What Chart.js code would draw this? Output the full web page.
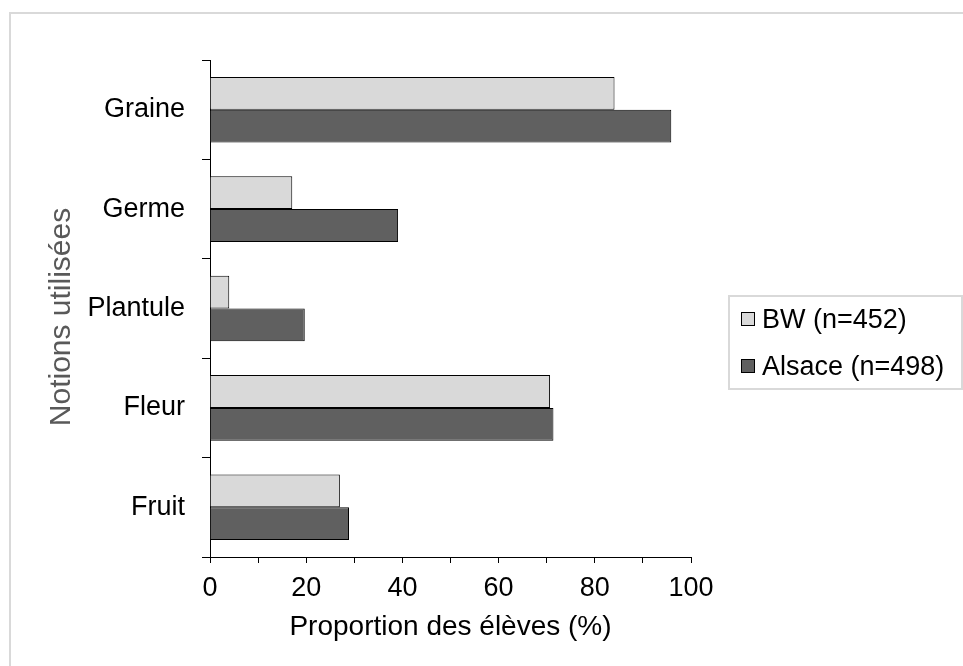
<!DOCTYPE html>
<html>
<head>
<meta charset="utf-8">
<script src="https://cdn.jsdelivr.net/npm/chart.js@4"></script>
<style>
  body { margin: 0; background: #fff; overflow: hidden; font-family: "Liberation Sans", Arial, sans-serif; }
  #frame { position: absolute; left: 9px; top: 12px; width: 2000px; height: 2000px;
           border-left: 2px solid #d9d9d9; border-top: 2px solid #d9d9d9; }
  #chart { position: absolute; left: 0; top: 0; }
  #legend { position: absolute; left: 728px; top: 295px; width: 235px; height: 95px;
            border: 2px solid #d9d9d9; box-sizing: border-box; }
  #legend ul { list-style: none; margin: 0; padding: 0; }
  #legend li { position: absolute; left: 11px; height: 30px; display: flex; align-items: center;
               font-size: 27px; color: #000; white-space: nowrap; }
  #legend li span { display: inline-block; width: 12px; height: 12px; border: 1px solid #000; margin-right: 7px; }
</style>
</head>
<body>
<div id="frame"></div>
<canvas id="chart" width="963" height="666"></canvas>
<div id="legend"></div>
<script>
const categories = ["Graine", "Germe", "Plantule", "Fleur", "Fruit"];
const seriesNames = ["BW (n=452)", "Alsace (n=498)"];
const bwValues = [84.1, 17.1, 4, 70.7, 27];
const alsaceValues = [95.9, 39.1, 19.7, 71.4, 28.9];
const xTicks = [0, 20, 40, 60, 80, 100];
const yTitle = "Notions utilisées";

const fontFamily = '"Liberation Sans", Arial, sans-serif';

// html legend, same idea as the chart.js sample
const htmlLegend = {
  id: "htmlLegend",
  afterUpdate(chart) {
    const box = document.getElementById("legend");
    box.innerHTML = "";
    const ul = document.createElement("ul");
    chart.data.datasets.forEach((ds, i) => {
      const li = document.createElement("li");
      li.style.top = (7 + i * 47) + "px";
      const sw = document.createElement("span");
      sw.style.background = ds.backgroundColor;
      li.appendChild(sw);
      li.appendChild(document.createTextNode(ds.label));
      ul.appendChild(li);
    });
    box.appendChild(ul);
  },
};

// y title sits a bit below the axis middle in the original
const sideTitle = {
  id: "sideTitle",
  afterDraw(chart) {
    const ctx = chart.ctx;
    ctx.save();
    ctx.translate(62, 317);
    ctx.rotate(-Math.PI / 2);
    ctx.font = "30px " + fontFamily;
    ctx.fillStyle = "#595959";
    ctx.textAlign = "center";
    ctx.textBaseline = "middle";
    ctx.fillText(yTitle, 0, 0);
    ctx.restore();
  },
};

new Chart(document.getElementById("chart").getContext("2d"), {
  type: "bar",
  data: {
    labels: categories,
    datasets: [
      {
        label: seriesNames[0],
        data: bwValues,
        backgroundColor: "#d9d9d9",
        borderColor: "#000",
        borderWidth: 1,
      },
      {
        label: seriesNames[1],
        data: alsaceValues,
        backgroundColor: "#606060",
        borderColor: "#000",
        borderWidth: 1,
      },
    ],
  },
  options: {
    indexAxis: "y",
    responsive: false,
    animation: false,
    devicePixelRatio: 1,
    categoryPercentage: 0.66,
    barPercentage: 1.0,
    layout: { padding: { left: 10, top: 60, right: 272, bottom: 0 } },
    plugins: {
      legend: { display: false },
      tooltip: { enabled: false },
    },
    scales: {
      x: {
        min: 0,
        max: 100,
        afterFit: (scale) => { scale.height = 109; },
        afterBuildTicks: (scale) => {
          scale.ticks = [];
          for (let v = 0; v <= 100; v += 10) scale.ticks.push({ value: v });
        },
        ticks: {
          autoSkip: false,
          maxRotation: 0,
          padding: 9,
          color: "#000",
          font: { family: fontFamily, size: 27 },
          callback: (v) => (xTicks.includes(v) ? String(v) : ""),
        },
        grid: { drawOnChartArea: false, tickLength: 6, color: "#000" },
        border: { color: "#000" },
        title: {
          display: true,
          text: "Proportion des élèves (%)",
          color: "#000",
          font: { family: fontFamily, size: 28 },
          padding: { top: 0, bottom: 22 },
        },
      },
      y: {
        afterFit: (scale) => { scale.width = 200; },
        ticks: {
          padding: 17,
          color: "#000",
          font: { family: fontFamily, size: 27 },
        },
        grid: { drawOnChartArea: false, offset: true, tickLength: 8, color: "#000" },
        border: { color: "#000" },
      },
    },
  },
  plugins: [htmlLegend, sideTitle],
});
</script>
</body>
</html>
